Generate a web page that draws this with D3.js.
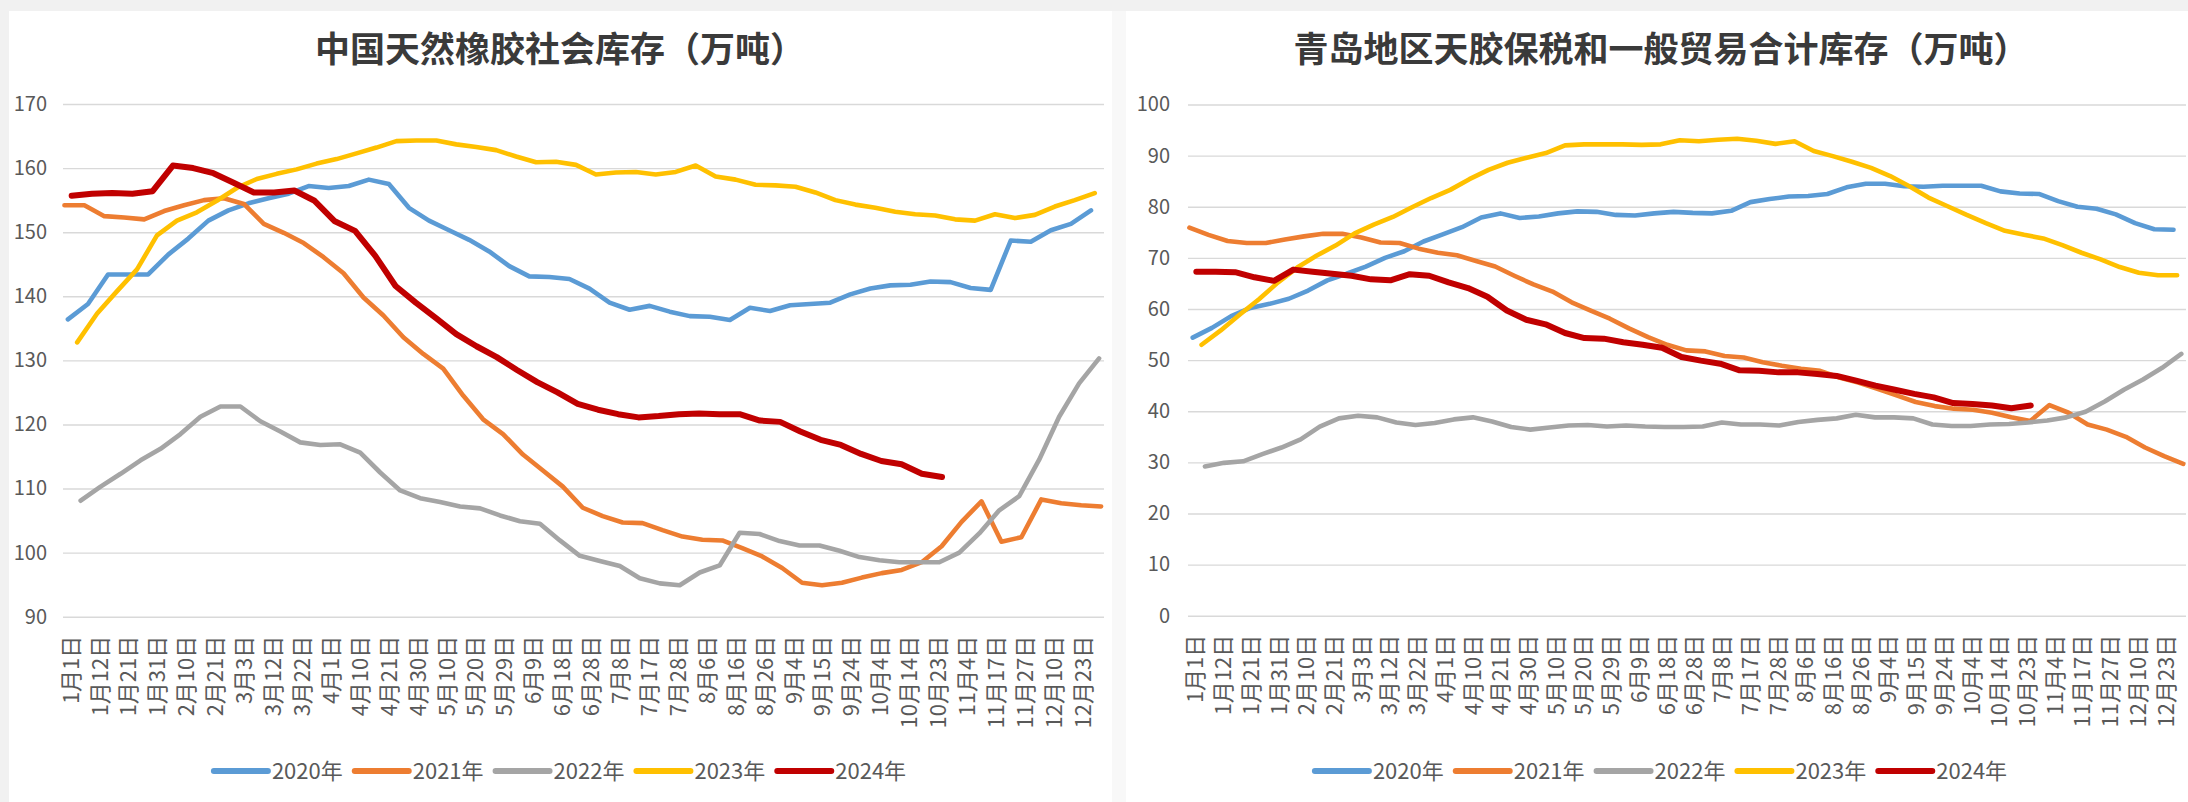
<!DOCTYPE html>
<html>
<head>
<meta charset="utf-8">
<script src="https://cdn.jsdelivr.net/npm/d3@7"></script>
<style>
  body { margin: 0; background: #f1f1f1; }
  svg { display: block; }
</style>
</head>
<body>
<script>
// category axis labels (one every second category)
const dateLabels = ["1月1日","1月12日","1月21日","1月31日","2月10日","2月21日","3月3日","3月12日","3月22日",
  "4月1日","4月10日","4月21日","4月30日","5月10日","5月20日","5月29日","6月9日","6月18日","6月28日",
  "7月8日","7月17日","7月28日","8月6日","8月16日","8月26日","9月4日","9月15日","9月24日","10月4日",
  "10月14日","10月23日","11月4日","11月17日","11月27日","12月10日","12月23日"];

const years = ["2020年","2021年","2022年","2023年","2024年"];
// first / last observation of each year, in axis-label units
const yearSpan = [[-0.08, 35.3], [-0.2, 35.65], [0.36, 35.58], [0.24, 35.43], [0.05, 30.15]];

// 中国天然橡胶社会库存（万吨）
const social2020 = [136.4,138.8,143.4,143.4,143.4,146.5,149,151.8,153.4,154.5,155.3,156,157.2,156.9,157.2,158.2,157.5,153.8,151.8,150.3,148.8,147,144.7,143.1,
  143,142.7,141.2,139,137.9,138.5,137.6,136.9,136.8,136.3,138.2,137.7,138.6,138.8,139,140.3,141.2,141.7,141.8,142.3,142.2,141.3,141,148.7,148.5,150.3,151.3,153.4];
const social2021 = [154.2,154.2,152.5,152.3,152,153.3,154.2,155,155.3,154.4,151.3,149.9,148.3,146.1,143.6,139.8,137,133.6,131,128.7,124.5,120.8,118.5,115.3,
  112.8,110.3,107,105.7,104.7,104.6,103.5,102.5,102,101.9,100.7,99.4,97.6,95.3,94.9,95.3,96.1,96.8,97.3,98.5,101,104.8,108,101.7,102.4,108.3,107.7,107.4,107.2];
const social2022 = [108.1,110.3,112.3,114.4,116.2,118.5,121.2,122.8,122.8,120.5,118.9,117.2,116.8,116.9,115.6,112.5,109.7,108.5,107.9,107.2,106.9,105.8,104.9,104.5,
  101.9,99.5,98.7,97.9,96,95.2,94.9,96.9,98,103.1,102.9,101.8,101.1,101.1,100.3,99.3,98.8,98.5,98.5,98.5,100,103,106.6,108.8,114.5,121.2,126.4,130.3];
const social2023 = [132.8,137.3,140.8,144.2,149.5,151.8,153.1,154.9,156.9,158.3,159.1,159.8,160.7,161.4,162.3,163.2,164.2,164.3,164.3,163.7,163.3,162.8,161.8,160.9,
  161,160.5,159,159.3,159.4,159,159.4,160.4,158.7,158.2,157.4,157.3,157.1,156.2,155,154.3,153.8,153.2,152.8,152.6,152,151.8,152.8,152.2,152.7,154,155,156.1];
const social2024 = [155.7,156,156.1,156,156.4,160.4,160,159.2,157.7,156.2,156.2,156.5,154.9,151.7,150.2,146.3,141.6,139,136.6,134.1,132.2,130.5,128.5,126.6,
  125,123.2,122.3,121.6,121.1,121.3,121.6,121.7,121.6,121.6,120.6,120.4,118.9,117.6,116.8,115.4,114.3,113.8,112.3,111.8];

// 青岛地区天胶保税和一般贸易合计库存（万吨）
const qingdao2020 = [54.4,56.3,58.6,60.2,61,62,63.6,65.6,66.9,68.3,70,71.3,73.2,74.6,76,77.9,78.7,77.8,78.1,78.7,79.1,79,78.4,78.3,
  78.7,79,78.8,78.7,79.2,80.9,81.5,82,82.1,82.5,83.8,84.5,84.5,84,83.9,84.1,84.1,84.1,83,82.6,82.5,81.1,80,79.6,78.5,76.8,75.6,75.5];
const qingdao2021 = [75.9,74.5,73.3,72.9,72.9,73.6,74.2,74.7,74.7,74,73,72.9,71.8,71,70.5,69.4,68.3,66.5,64.8,63.4,61.3,59.7,58.1,56.2,
  54.5,53,51.9,51.7,50.8,50.5,49.6,48.9,48.3,47.9,46.6,45.6,44.4,43.1,41.8,41,40.5,40.3,39.7,38.8,38.1,41.2,39.7,37.4,36.4,35,32.9,31.2,29.7];
const qingdao2022 = [29.2,29.9,30.2,31.6,32.9,34.5,37,38.6,39.1,38.8,37.8,37.3,37.7,38.4,38.8,38,36.9,36.4,36.8,37.2,37.3,37,37.2,37,
  36.9,36.9,37,37.8,37.4,37.4,37.2,37.9,38.3,38.6,39.3,38.8,38.8,38.6,37.4,37.1,37.1,37.4,37.5,37.8,38.2,38.8,39.9,41.9,44.2,46.2,48.5,51.2];
const qingdao2023 = [53,55.8,58.9,61.9,65.2,68.1,70.4,72.4,74.8,76.5,78,79.9,81.7,83.3,85.4,87.2,88.6,89.6,90.5,92,92.2,92.2,92.2,92.1,
  92.2,93,92.8,93.1,93.3,92.9,92.3,92.8,90.9,89.9,88.8,87.6,86,84,81.8,80.1,78.4,76.8,75.3,74.5,73.8,72.5,71,69.7,68.2,67.1,66.6,66.6];
const qingdao2024 = [67.3,67.3,67.2,66.2,65.5,67.7,67.3,66.9,66.5,65.8,65.6,66.8,66.5,65.2,64.1,62.4,59.7,57.9,57,55.3,54.3,54.2,53.5,53,
  52.4,50.6,49.9,49.3,48,47.9,47.6,47.6,47.3,46.9,46,45,44.2,43.4,42.7,41.6,41.4,41.1,40.6,41.1];

const socialTicks = [90,100,110,120,130,140,150,160,170];
const qingdaoTicks = [0,10,20,30,40,50,60,70,80,90,100];

const colors = ["#5b9bd5","#ed7d31","#a5a5a5","#ffc000","#c00000"];
const widths = [4.6, 4.6, 4.6, 4.6, 6];
const font = "'Noto Sans CJK SC', 'Noto Sans', sans-serif";

const W = 2188, H = 802;
const svg = d3.select("body").append("svg").attr("width", W).attr("height", H);

// panels
svg.append("rect").attr("x", 9).attr("y", 11).attr("width", W - 9).attr("height", H - 11).attr("fill", "#f8f8f8");
svg.append("rect").attr("x", 9).attr("y", 11).attr("width", 1103).attr("height", H - 11).attr("fill", "#fff");
svg.append("rect").attr("x", 1126).attr("y", 11).attr("width", W - 1126).attr("height", H - 11).attr("fill", "#fff");

function drawChart(cfg) {
  const g = svg.append("g");
  const x = d3.scaleLinear().domain([-0.25, dateLabels.length - 0.25]).range([cfg.left, cfg.right]);
  const y = d3.scaleLinear().domain(d3.extent(cfg.ticks)).range([cfg.bottom, cfg.top]);

  g.append("text")
    .attr("x", cfg.center).attr("y", 46)
    .attr("text-anchor", "middle").attr("dominant-baseline", "central")
    .style("font-family", font).style("font-size", "35px").style("font-weight", 700)
    .attr("fill", "#3a3a3a")
    .text(cfg.title);

  // y axis + grid
  const ya = g.append("g").attr("transform", `translate(${cfg.left},0)`)
    .call(d3.axisLeft(y).tickValues(cfg.ticks).tickSize(-(cfg.right - cfg.left)).tickPadding(cfg.pad));
  ya.select(".domain").remove();
  ya.selectAll(".tick line").attr("stroke", "#d9d9d9").attr("stroke-width", 1.4);
  ya.selectAll(".tick text").attr("fill", "#595959")
    .style("font-family", font).style("font-size", "20px");

  // x axis labels
  const xa = g.append("g").attr("transform", `translate(0,${cfg.bottom})`)
    .call(d3.axisBottom(x).tickValues(d3.range(dateLabels.length)).tickFormat(i => dateLabels[i]).tickSize(0));
  xa.select(".domain").remove();
  xa.selectAll(".tick text")
    .attr("transform", "rotate(-90)")
    .attr("x", -19).attr("y", 0).attr("dy", "0.36em")
    .attr("text-anchor", "end")
    .attr("fill", "#595959")
    .style("font-family", font).style("font-size", "22px");

  // lines
  cfg.series.forEach((vals, k) => {
    const pos = d3.scaleLinear().domain([0, vals.length - 1]).range(yearSpan[k]);
    const line = d3.line().x((d, i) => x(pos(i))).y(d => y(d));
    g.append("path")
      .datum(vals)
      .attr("fill", "none")
      .attr("stroke", colors[k])
      .attr("stroke-width", widths[k])
      .attr("stroke-linejoin", "round")
      .attr("stroke-linecap", "round")
      .attr("d", line);
  });

  // legend
  const lg = g.append("g").attr("transform", `translate(0,771)`);
  const items = lg.selectAll("g").data(years).join("g");
  items.append("line")
    .attr("x1", 0).attr("x2", 54)
    .attr("stroke", (d, i) => colors[i]).attr("stroke-width", 6).attr("stroke-linecap", "round");
  items.append("text")
    .attr("x", 58).attr("dy", "0.35em")
    .attr("fill", "#595959")
    .style("font-family", font).style("font-size", "22px")
    .text(d => d);
  let offset = 0;
  const pos = [];
  items.each(function () {
    pos.push(offset);
    offset += 58 + this.querySelector("text").getComputedTextLength() + 12;
  });
  const total = offset - 12;
  items.attr("transform", (d, i) => `translate(${cfg.center - total / 2 + pos[i]},0)`);
}

drawChart({
  title: "中国天然橡胶社会库存（万吨）",
  center: 560, left: 63, right: 1104, top: 104, bottom: 616.7, pad: 16,
  ticks: socialTicks,
  series: [social2020, social2021, social2022, social2023, social2024]
});

drawChart({
  title: "青岛地区天胶保税和一般贸易合计库存（万吨）",
  center: 1661, left: 1188, right: 2186, top: 104.5, bottom: 615.7, pad: 18,
  ticks: qingdaoTicks,
  series: [qingdao2020, qingdao2021, qingdao2022, qingdao2023, qingdao2024]
});
</script>
</body>
</html>
